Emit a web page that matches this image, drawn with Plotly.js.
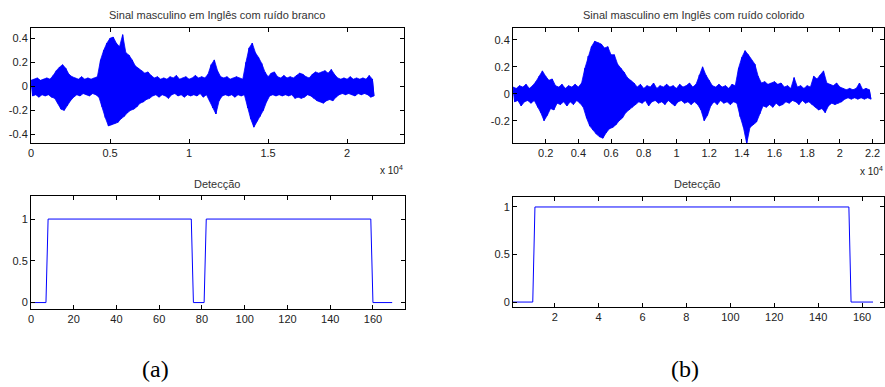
<!DOCTYPE html>
<html>
<head>
<meta charset="utf-8">
<script src="https://cdn.plot.ly/plotly-3.0.1.min.js"></script>
<style>html,body{margin:0;padding:0;background:#fff;}#chart{width:885px;height:387px;}</style>
</head>
<body>
<div id="chart"></div>
<script>
// Envelope of signal (a): sample positions (step 200) with upper / lower peak values
const sampleStep = 200;
const whiteUpper = [0.05,0.06,0.07,0.05,0.06,0.07,0.06,0.09,0.13,0.16,0.18,0.15,0.10,0.08,0.07,0.06,0.08,0.06,0.07,0.06,
  0.07,0.08,0.22,0.30,0.36,0.40,0.41,0.36,0.33,0.43,0.28,0.26,0.22,0.17,0.15,0.13,0.11,0.12,0.09,0.07,
  0.08,0.06,0.07,0.06,0.08,0.07,0.09,0.06,0.07,0.08,0.06,0.07,0.09,0.07,0.08,0.07,0.10,0.18,0.22,0.13,
  0.08,0.07,0.08,0.06,0.07,0.08,0.07,0.06,0.20,0.32,0.36,0.28,0.24,0.19,0.12,0.08,0.11,0.12,0.08,0.07,
  0.09,0.07,0.08,0.07,0.09,0.11,0.10,0.08,0.07,0.10,0.12,0.11,0.12,0.13,0.11,0.14,0.10,0.07,0.06,0.07,
  0.06,0.08,0.06,0.07,0.06,0.07,0.06,0.09,0.06];
const whiteLower = [-0.08,-0.07,-0.09,-0.07,-0.08,-0.07,-0.09,-0.10,-0.14,-0.19,-0.20,-0.16,-0.12,-0.09,-0.07,-0.08,-0.06,-0.07,-0.08,-0.06,
  -0.07,-0.09,-0.17,-0.26,-0.33,-0.32,-0.31,-0.30,-0.27,-0.25,-0.22,-0.20,-0.19,-0.17,-0.14,-0.13,-0.11,-0.10,-0.08,-0.07,
  -0.09,-0.07,-0.08,-0.10,-0.07,-0.06,-0.08,-0.07,-0.09,-0.07,-0.08,-0.07,-0.08,-0.06,-0.09,-0.07,-0.12,-0.18,-0.23,-0.12,
  -0.08,-0.07,-0.08,-0.07,-0.09,-0.07,-0.08,-0.07,-0.18,-0.27,-0.34,-0.29,-0.25,-0.20,-0.13,-0.08,-0.07,-0.08,-0.07,-0.08,
  -0.07,-0.08,-0.07,-0.10,-0.09,-0.10,-0.09,-0.07,-0.08,-0.10,-0.12,-0.13,-0.14,-0.12,-0.11,-0.12,-0.09,-0.07,-0.06,-0.07,
  -0.06,-0.07,-0.08,-0.06,-0.07,-0.06,-0.07,-0.09,-0.08];

// Envelope of signal (b)
const colorUpper = [0.05,0.04,0.06,0.05,0.07,0.04,0.06,0.09,0.13,0.17,0.13,0.10,0.11,0.06,0.05,0.07,0.04,0.06,0.05,0.07,
  0.05,0.08,0.19,0.28,0.35,0.39,0.38,0.37,0.34,0.35,0.29,0.29,0.22,0.19,0.16,0.12,0.10,0.08,0.05,0.07,
  0.04,0.06,0.05,0.08,0.04,0.06,0.05,0.07,0.05,0.06,0.04,0.07,0.05,0.06,0.08,0.05,0.07,0.14,0.20,0.14,
  0.10,0.06,0.05,0.07,0.05,0.06,0.04,0.07,0.06,0.19,0.27,0.32,0.29,0.25,0.22,0.13,0.08,0.09,0.07,0.08,
  0.09,0.07,0.08,0.05,0.06,0.04,0.12,0.05,0.06,0.04,0.06,0.05,0.13,0.11,0.14,0.17,0.08,0.07,0.06,0.08,
  0.05,0.04,0.03,0.04,0.03,0.04,0.08,0.03,0.04,0.03];
const colorLower = [-0.06,-0.05,-0.09,-0.06,-0.05,-0.07,-0.05,-0.10,-0.14,-0.20,-0.16,-0.11,-0.12,-0.07,-0.08,-0.06,-0.09,-0.06,-0.08,-0.05,
  -0.07,-0.10,-0.18,-0.24,-0.27,-0.30,-0.32,-0.33,-0.29,-0.26,-0.25,-0.23,-0.20,-0.18,-0.14,-0.12,-0.10,-0.08,-0.06,-0.07,
  -0.05,-0.09,-0.06,-0.05,-0.07,-0.06,-0.08,-0.05,-0.07,-0.09,-0.06,-0.05,-0.07,-0.06,-0.08,-0.06,-0.08,-0.12,-0.20,-0.16,
  -0.09,-0.06,-0.08,-0.05,-0.07,-0.06,-0.08,-0.06,-0.07,-0.17,-0.25,-0.37,-0.25,-0.23,-0.21,-0.15,-0.09,-0.10,-0.08,-0.10,
  -0.07,-0.09,-0.08,-0.06,-0.07,-0.05,-0.06,-0.08,-0.05,-0.07,-0.06,-0.08,-0.10,-0.12,-0.11,-0.14,-0.09,-0.07,-0.08,-0.07,
  -0.06,-0.04,-0.03,-0.04,-0.03,-0.04,-0.03,-0.04,-0.03,-0.04];

// Detection outputs (breakpoints of the step lines)
const detAx = [0,7,8,75,76,81,82,159,160,169];
const detAy = [0,0,1,1,0,0,1,1,0,0];
const detBx = [1,10,11,154,155,165];
const detBy = [0,0,1,1,0,0];

// Tick labels
const sigATickVals = [0,5000,10000,15000,20000];
const sigATickText = ['0','0.5','1','1.5','2'];
const sigBTickVals = [2000,4000,6000,8000,10000,12000,14000,16000,18000,20000,22000];
const sigBTickText = ['0.2','0.4','0.6','0.8','1','1.2','1.4','1.6','1.8','2','2.2'];
const detATickVals = [0,20,40,60,80,100,120,140,160];
const detATickText = ['0','20','40','60','80','100','120','140','160'];
const detBTickVals = [20,40,60,80,100,120,140,160];
const detBTickText = ['2','4','6','8','100','120','140','160'];

const titles = ['Sinal masculino em Inglês com ruído branco','Sinal masculino em Inglês com ruído colorido','Detecção','Detecção'];

function zigzag(up, lo, step){
  const x=[], y=[];
  for(let i=0;i<up.length;i++){
    x.push(i*step); y.push(up[i]);
    x.push(i*step+step/2); y.push(lo[i]);
  }
  return {x, y};
}
function envelope(up, lo, step){
  const x=[], y=[];
  for(let i=0;i<up.length;i++){ x.push(i*step); y.push(up[i]); }
  for(let i=lo.length-1;i>=0;i--){ x.push(i*step+step/2); y.push(lo[i]); }
  return {x, y};
}
const zA = zigzag(whiteUpper, whiteLower, sampleStep);
const zB = zigzag(colorUpper, colorLower, sampleStep);
const eA = envelope(whiteUpper, whiteLower, sampleStep);
const eB = envelope(colorUpper, colorLower, sampleStep);
const blue = '#0000ff';

const traces = [
  {x:eA.x, y:eA.y, type:'scatter', mode:'lines', fill:'toself', fillcolor:blue, line:{color:blue, width:0.8}, xaxis:'x', yaxis:'y', hoverinfo:'skip'},
  {x:zA.x, y:zA.y, type:'scatter', mode:'lines', line:{color:blue, width:1}, xaxis:'x', yaxis:'y', hoverinfo:'skip'},
  {x:eB.x, y:eB.y, type:'scatter', mode:'lines', fill:'toself', fillcolor:blue, line:{color:blue, width:0.8}, xaxis:'x2', yaxis:'y2', hoverinfo:'skip'},
  {x:zB.x, y:zB.y, type:'scatter', mode:'lines', line:{color:blue, width:1}, xaxis:'x2', yaxis:'y2', hoverinfo:'skip'},
  {x:detAx, y:detAy, type:'scatter', mode:'lines', line:{color:blue, width:1}, xaxis:'x3', yaxis:'y3'},
  {x:detBx, y:detBy, type:'scatter', mode:'lines', line:{color:blue, width:1}, xaxis:'x4', yaxis:'y4'}
];

const W=885, H=387;
const px = v => v/W;
const py = v => 1 - v/H;
const sans = 'Liberation Sans, Arial, sans-serif';
const tickFont = {family:sans, size:11, color:'#222'};
function ax(extra){
  return Object.assign({showline:true, linecolor:'#000', linewidth:1, mirror:'ticks', ticks:'inside', ticklen:4,
    tickcolor:'#000', showgrid:false, zeroline:false, tickfont:tickFont, fixedrange:true}, extra);
}
function note(text, x, y, size, anchor, family, color){
  return {text:text, x:px(x), y:py(y), xref:'paper', yref:'paper', showarrow:false, xanchor:anchor, yanchor:'middle',
    font:{family:family, size:size, color:color}};
}

const layout = {
  width:W, height:H, margin:{l:0,r:0,t:0,b:0}, showlegend:false,
  paper_bgcolor:'#fff', plot_bgcolor:'#fff',
  xaxis: ax({domain:[px(31),px(404)], range:[0,23600], tickmode:'array', tickvals:sigATickVals, ticktext:sigATickText, anchor:'y'}),
  yaxis: ax({domain:[py(143),py(28)], range:[-0.472,0.486], tickmode:'array', tickvals:[-0.4,-0.2,0,0.2,0.4], ticktext:['-0.4','-0.2','0','0.2','0.4'], anchor:'x'}),
  xaxis2: ax({domain:[px(513),px(884)], range:[0,22700], tickmode:'array', tickvals:sigBTickVals, ticktext:sigBTickText, anchor:'y2'}),
  yaxis2: ax({domain:[py(143),py(28)], range:[-0.366,0.489], tickmode:'array', tickvals:[-0.2,0,0.2,0.4], ticktext:['-0.2','0','0.2','0.4'], anchor:'x2'}),
  xaxis3: ax({domain:[px(31),px(405)], range:[0,175], tickmode:'array', tickvals:detATickVals, ticktext:detATickText, anchor:'y3'}),
  yaxis3: ax({domain:[py(309),py(196)], range:[-0.077,1.276], tickmode:'array', tickvals:[0,0.5,1], ticktext:['0','0.5','1'], anchor:'x3'}),
  xaxis4: ax({domain:[px(513),px(884)], range:[1,170], tickmode:'array', tickvals:detBTickVals, ticktext:detBTickText, anchor:'y4'}),
  yaxis4: ax({domain:[py(307),py(197)], range:[-0.052,1.105], tickmode:'array', tickvals:[0,0.5,1], ticktext:['0','0.5','1'], anchor:'x4'}),
  annotations: [
    note(titles[0], 217, 15, 11, 'center', sans, '#333'),
    note(titles[1], 693, 15, 11, 'center', sans, '#333'),
    note(titles[2], 217, 184, 11, 'center', sans, '#333'),
    note(titles[3], 697, 184, 11, 'center', sans, '#333'),
    note('x 10<sup>4</sup>', 405, 170, 10, 'right', sans, '#222'),
    note('x 10<sup>4</sup>', 885, 171, 10, 'right', sans, '#222'),
    note('(a)', 155, 369, 24, 'center', 'Liberation Serif, Times New Roman, serif', '#000'),
    note('(b)', 685, 369, 24, 'center', 'Liberation Serif, Times New Roman, serif', '#000')
  ]
};

Plotly.newPlot('chart', traces, layout, {displayModeBar:false, staticPlot:true});
</script>
</body>
</html>
